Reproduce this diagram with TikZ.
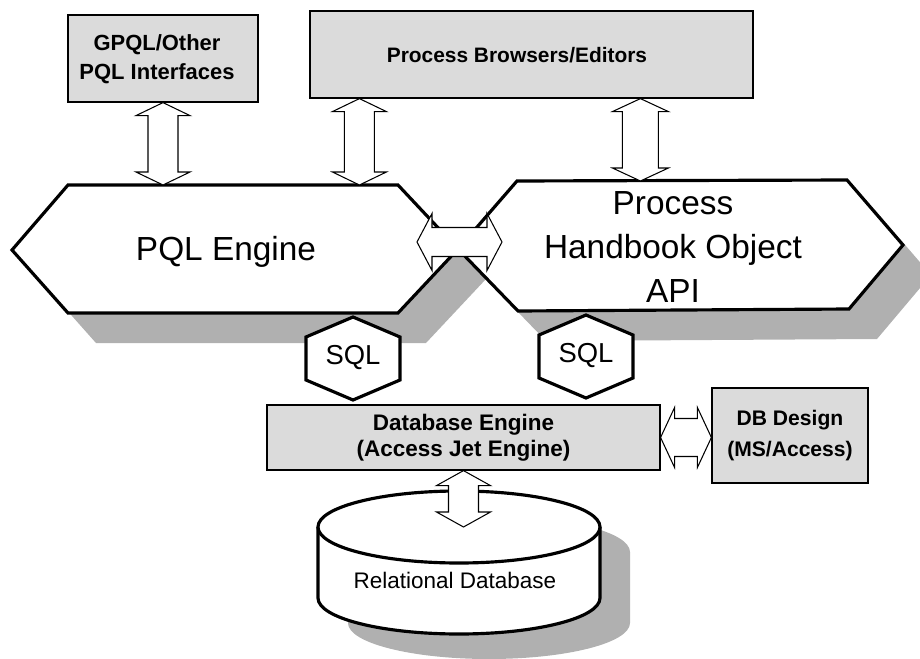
\documentclass[tikz,border=0pt]{standalone}
\usepackage{fontspec}
\setmainfont{Liberation Sans}
\usetikzlibrary{calc}

% font sizes (1 unit = 0.02cm)
\newcommand\fboxtxt{\fontsize{11.9pt}{16.5pt}\selectfont\bfseries}
\newcommand\fgpql{\fontsize{12.5pt}{16.5pt}\selectfont\bfseries}
\newcommand\fdbtxt{\fontsize{12.8pt}{14.8pt}\selectfont\bfseries}
\newcommand\fdesign{\fontsize{12pt}{17.6pt}\selectfont\bfseries}
\newcommand\fbig{\fontsize{19pt}{25.3pt}\selectfont}
\newcommand\fsql{\fontsize{15.6pt}{18pt}\selectfont}
\newcommand\freldb{\fontsize{12.8pt}{16pt}\selectfont}

% outlines of the two big hexagons and the database cylinder body
\newcommand\pqlpath{(12,250) -- (68,185) -- (398,185) -- (458,249) -- (398,313) -- (68,313) -- cycle}
\newcommand\apipath{(458,249) -- (517,181) -- (847,180) -- (903,245) -- (849,309) -- (518,311) -- cycle}
\newcommand\cylbody{(318,527) -- (318,598) arc[start angle=180, end angle=0, x radius=141, y radius=36] -- (600,527) -- cycle}

% vertical double block arrow: #1 upper tip, #2 lower tip, #3 shaft half width, #4 head half width, #5 head length
\newcommand\vdbl[5]{%
  \draw[blockarrow] (#1) -- ($(#1)+(#4,#5)$) -- ($(#1)+(#3,#5)$) -- ($(#2)+(#3,-#5)$) -- ($(#2)+(#4,-#5)$) -- (#2)
    -- ($(#2)+(-#4,-#5)$) -- ($(#2)+(-#3,-#5)$) -- ($(#1)+(-#3,#5)$) -- ($(#1)+(-#4,#5)$) -- cycle;}
% horizontal double block arrow: #1 left tip, #2 right tip, #3 shaft half height, #4 head half height, #5 head length
\newcommand\hdbl[5]{%
  \draw[blockarrow] (#1) -- ($(#1)+(#5,-#4)$) -- ($(#1)+(#5,-#3)$) -- ($(#2)+(-#5,-#3)$) -- ($(#2)+(-#5,-#4)$) -- (#2)
    -- ($(#2)+(-#5,#4)$) -- ($(#2)+(-#5,#3)$) -- ($(#1)+(#5,#3)$) -- ($(#1)+(#5,#4)$) -- cycle;}

\tikzset{
  graybox/.style={draw=black, line width=0.7pt, fill=gray!28, inner sep=0pt, align=center},
  heavy/.style={draw=black, line width=1.8pt, fill=white, line join=miter},
  shadowfill/.style={fill=gray!62},
  blockarrow/.style={draw=black, line width=0.6pt, fill=white, line join=miter},
  plain/.style={inner sep=0pt, align=center},
}

\begin{document}
\begin{tikzpicture}[x=0.02cm, y=-0.02cm]
\clip (0,0) rectangle (920,659);

% drop shadows
\fill[shadowfill, shift={(28,30)}] \pqlpath;
\fill[shadowfill, shift={(28,30)}] \apipath;
\fill[shadowfill, shift={(30,25)}] \cylbody;
\fill[shadowfill, shift={(30,25)}] (459,527) ellipse[x radius=141, y radius=36];

% client boxes
\node[graybox, minimum width=3.8cm, minimum height=1.74cm] (gpql) at (163,58.5) {};
\node[plain, font=\fgpql] (gpqltext) at (157,59) {GPQL/Other\\PQL Interfaces};
\node[graybox, font=\fboxtxt, minimum width=8.86cm, minimum height=1.74cm] (browsers) at (531.5,54.5) {};
\node[plain, font=\fboxtxt] (browserstext) at (517,55) {Process Browsers/Editors};

% engine hexagons
\path[heavy] \pqlpath;
\path[heavy] \apipath;
\coordinate (pqlN) at (235,185);
\coordinate (apiN) at (680,181);
\node[plain, font=\fbig] (pql) at (226,252) {PQL Engine};
\node[plain, font=\fbig] (api) at (673,247) {Process\\Handbook Object\\API};

% SQL hexagons
\coordinate (s1) at (353,358);
\coordinate (s2) at (586,356);
\foreach \c in {s1,s2}{
  \path[heavy] ($(\c)+(0,-41)$) -- ($(\c)+(47,-21)$) -- ($(\c)+(47,22)$) -- ($(\c)+(0,42)$)
    -- ($(\c)+(-47,22)$) -- ($(\c)+(-47,-21)$) -- cycle;
}
\node[plain, font=\fsql] (sql1) at (s1) {SQL};
\node[plain, font=\fsql] (sql2) at (s2) {SQL};

% database engine and design tool
\node[graybox, font=\fdbtxt, minimum width=7.86cm, minimum height=1.3cm] (dbe) at (463.5,437.5) {Database Engine\\(Access Jet Engine)};
\node[graybox, font=\fdesign, minimum width=3.12cm, minimum height=1.9cm] (dbd) at (790,435.5) {DB Design\\(MS/Access)};

% relational database cylinder
\fill[white] \cylbody;
\draw[line width=1.8pt] (318,527) -- (318,598) arc[start angle=180, end angle=0, x radius=141, y radius=36] -- (600,527);
\draw[heavy] (459,527) ellipse[x radius=141, y radius=36];
\coordinate (cyltop) at (459,527);
\node[plain, font=\freldb] (reldb) at (455,580) {Relational Database};

% connecting block arrows
\coordinate (b2) at ($(browsers.south west)+(50,0)$);
\coordinate (b3) at ($(browsers.south west)+(331,0)$);
\vdbl{gpql.south}{gpql.south |- pqlN}{15}{27}{13}
\vdbl{b2}{b2 |- pqlN}{15}{27}{13}
\vdbl{b3}{b3 |- apiN}{18}{28}{13}
\coordinate (midL) at (417,242);
\coordinate (midR) at (502,242);
\hdbl{midL}{midR}{14.5}{28.5}{15}
\hdbl{dbe.east}{dbe.east -| dbd.west}{19}{30}{14}
\vdbl{dbe.south}{dbe.south |- cyltop}{15}{27}{15}
\end{tikzpicture}
\end{document}
